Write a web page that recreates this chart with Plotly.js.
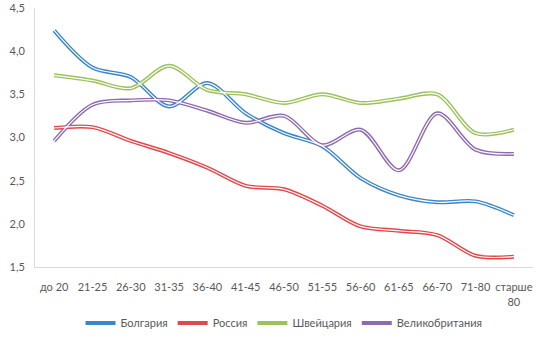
<!DOCTYPE html>
<html><head><meta charset="utf-8">
<script src="https://cdn.plot.ly/plotly-3.0.1.min.js"></script>
<style>html,body{margin:0;padding:0;background:#fff}#chart{width:547px;height:346px}</style>
</head><body><div id="chart"></div>
<script>
const categories = ["до 20","21-25","26-30","31-35","36-40","41-45","46-50","51-55","56-60","61-65","66-70","71-80","старше<br>80"];
const bulgaria = [4.24,3.81,3.70,3.36,3.63,3.28,3.05,2.90,2.53,2.33,2.25,2.26,2.10];
const russia   = [3.11,3.12,2.96,2.82,2.65,2.44,2.40,2.21,1.97,1.92,1.87,1.63,1.62];
const swiss    = [3.72,3.66,3.57,3.83,3.55,3.50,3.40,3.50,3.40,3.45,3.50,3.05,3.09];
const uk       = [2.96,3.38,3.43,3.43,3.31,3.17,3.25,2.91,3.09,2.62,3.28,2.86,2.81];
const names = ["Болгария","Россия","Швейцария","Великобритания"];
const colors = ["#3A86C6","#E2484B","#9CC25B","#8E6AAE"];
const series = [bulgaria, russia, swiss, uk];

const traces = [];
series.forEach((s,i)=>{
  traces.push({x:categories,y:s,type:'scatter',mode:'lines',name:names[i],
    line:{color:colors[i],width:4,shape:'spline',smoothing:0.9},hoverinfo:'skip'});
});
series.forEach((s,i)=>{
  traces.push({x:categories,y:s,type:'scatter',mode:'lines',showlegend:false,
    line:{color:'#ffffff',width:1.2,shape:'spline',smoothing:0.9},hoverinfo:'skip'});
});

const layout = {
  width:547,height:346,
  margin:{l:35,r:14,t:8,b:75},
  paper_bgcolor:'#fff',plot_bgcolor:'#fff',
  separators:', ',
  font:{family:'Lato, "Open Sans", sans-serif',size:11,color:'#595959'},
  xaxis:{type:'category',range:[-0.5,12.5],showgrid:false,zeroline:false,automargin:false,
    showline:true,linecolor:'#D9D9D9',linewidth:1,ticks:'',ticklabelstandoff:10,
    tickfont:{size:11,color:'#595959'},tickangle:0},
  yaxis:{range:[1.5,4.5],dtick:0.5,tickformat:'.1f',showgrid:false,zeroline:false,automargin:false,
    showline:true,linecolor:'#D9D9D9',linewidth:1,ticks:'',ticklabelstandoff:7,
    tickfont:{size:11,color:'#595959'}},
  legend:{orientation:'h',x:0.5,xanchor:'center',y:-0.16,yanchor:'top',
    font:{size:11,color:'#595959'},itemwidth:30,traceorder:'normal'},
  showlegend:true
};
Plotly.newPlot('chart',traces,layout,{staticPlot:true,displayModeBar:false});
</script></body></html>
